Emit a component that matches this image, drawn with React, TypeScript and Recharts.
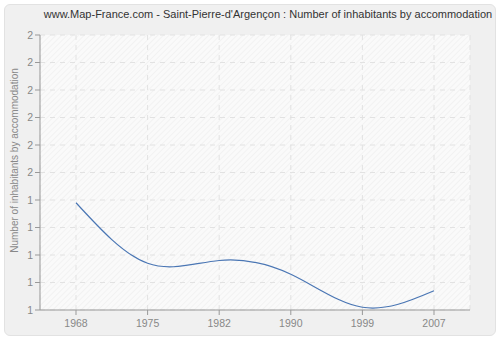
import { LineChart, Line, XAxis, YAxis, CartesianGrid } from 'recharts'

const years = ['1968', '1975', '1982', '1990', '1999', '2007']
const ratio = [1.39, 1.17, 1.18, 1.13, 1.01, 1.07]
const yTicks = [1, 1.1, 1.2, 1.3, 1.4, 1.5, 1.6, 1.7, 1.8, 1.9, 2]

const data = years.map((year, i) => ({ year, value: ratio[i] }))

const AXIS = '#999'
const TEXT = '#888'
const FONT = 'Liberation Sans, Arial, sans-serif'

export default function App() {
  return (
    <div style={{ position: 'absolute', left: 0, top: 0, width: 500, height: 340, background: '#fff', fontFamily: FONT }}>
      <div
        style={{
          position: 'absolute', left: 4, top: 4, width: 490, height: 330,
          background: '#f0f0f0', border: '1px solid #e2e2e2', borderRadius: 6,
        }}
      />
      <div style={{ position: 'absolute', left: 0, top: 8, width: 536, textAlign: 'center', fontSize: 11, color: '#333' }}>
        www.Map-France.com - Saint-Pierre-d'Argençon : Number of inhabitants by accommodation
      </div>
      <div style={{ position: 'absolute', left: 0, top: 0 }}>
        <LineChart width={500} height={340} data={data} margin={{ top: 35, right: 30, bottom: 0, left: 0 }}>
          <defs>
            <pattern id="hatch" width="4" height="4" patternUnits="userSpaceOnUse" patternTransform="rotate(45)">
              <rect width="4" height="4" fill="#fafafa" />
              <line x1="0" y1="0" x2="0" y2="4" stroke="#ebebeb" strokeWidth="1" />
            </pattern>
          </defs>
          <CartesianGrid stroke="#e2e2e2" strokeDasharray="5 5" fill="url(#hatch)" fillOpacity={1} />
          <XAxis
            dataKey="year"
            height={30}
            padding={{ left: 36, right: 36 }}
            stroke={AXIS}
            tickSize={5}
            tick={{ fill: TEXT, fontSize: 10.5, fontFamily: FONT }}
            tickMargin={5}
          />
          <YAxis
            width={40}
            domain={[1, 2]}
            ticks={yTicks}
            interval={0}
            stroke={AXIS}
            tickSize={5}
            tick={{ fill: TEXT, fontSize: 10.5, fontFamily: FONT }}
            tickFormatter={(v: number) => String(Math.round(v))}
            label={{
              value: 'Number of inhabitants by accommodation',
              angle: -90,
              position: 'insideLeft',
              offset: 14,
              dy: -12,
              fill: TEXT,
              fontSize: 10,
              fontFamily: FONT,
              style: { textAnchor: 'middle' },
            }}
          />
          <Line type="natural" dataKey="value" stroke="#4a76b4" strokeWidth={1.2} dot={false} isAnimationActive={false} />
        </LineChart>
      </div>
    </div>
  )
}
